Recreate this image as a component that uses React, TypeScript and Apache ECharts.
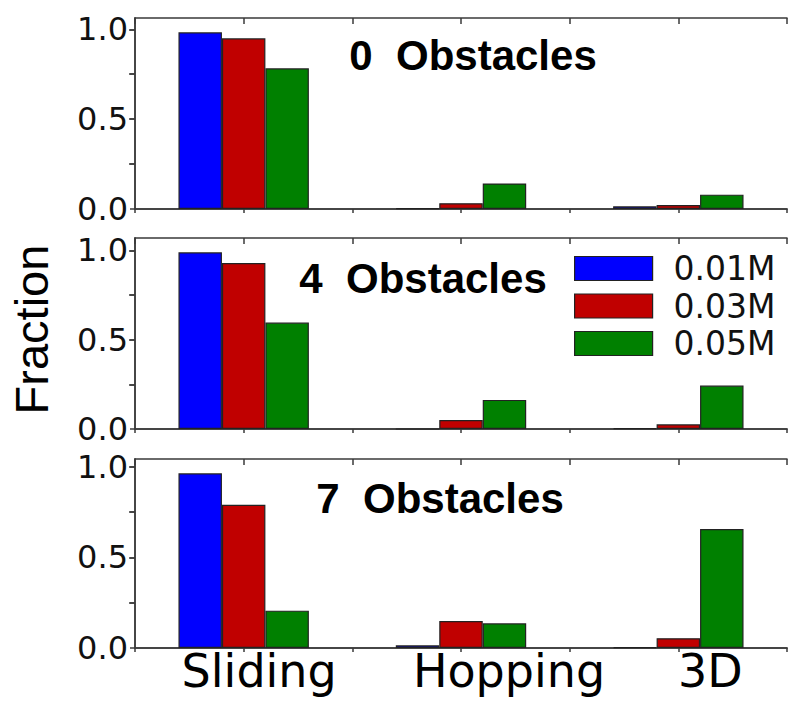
import React, { useEffect, useRef } from "react";
import * as echarts from "echarts";

const categories = ["Sliding", "Hopping", "3D"];
const seriesNames = ["0.01M", "0.03M", "0.05M"];
const panelTitles = ["0  Obstacles", "4  Obstacles", "7  Obstacles"];
const yLabelValues = [0, 0.5, 1.0];
const yTickValues = [0, 0.25, 0.5, 0.75, 1.0];

// 0 obstacles
const obs0_01M = [0.983, 0.004, 0.015];
const obs0_03M = [0.95, 0.032, 0.022];
const obs0_05M = [0.783, 0.142, 0.08];
// 4 obstacles
const obs4_01M = [0.99, 0, 0.005];
const obs4_03M = [0.93, 0.05, 0.026];
const obs4_05M = [0.596, 0.163, 0.243];
// 7 obstacles
const obs7_01M = [0.963, 0.015, 0.005];
const obs7_03M = [0.79, 0.149, 0.054];
const obs7_05M = [0.206, 0.136, 0.656];

const panelData = [
  [obs0_01M, obs0_03M, obs0_05M],
  [obs4_01M, obs4_03M, obs4_05M],
  [obs7_01M, obs7_03M, obs7_05M],
];

const colors = ["#0000ff", "#c00000", "#008000"];
const frameColor = "#3a3a3a";
const grids = [
  { left: 135, width: 652, top: 18, height: 191, max: 1.063 },
  { left: 135, width: 652, top: 238, height: 191, max: 1.07 },
  { left: 135, width: 652, top: 459, height: 189, max: 1.042 },
];
const titlePos = [
  { x: 473, y: 55 },
  { x: 423, y: 278 },
  { x: 440, y: 498 },
];
const labelShift = [31, 96, 64];

export default function App() {
  const ref = useRef<HTMLDivElement>(null);
  useEffect(() => {
    if (!ref.current) return;
    const chart = echarts.init(ref.current, undefined, { renderer: "svg" });
    const lineStyle = { color: frameColor, width: 1.5 };
    const xAxis: any[] = [];
    const yAxis: any[] = [];
    const series: any[] = [];
    grids.forEach((g, i) => {
      // main category axis
      xAxis.push({
        type: "category",
        gridIndex: i,
        data: categories,
        position: "bottom",
        axisLine: { show: true, lineStyle },
        axisTick: { show: false },
        axisLabel: {
          show: i === 2,
          margin: 0,
          formatter: (v: string) => `{c${categories.indexOf(v)}|${v}}`,
          rich: {
            c0: { fontSize: 46, fontFamily: "DejaVu Sans", color: "#000", padding: [0, 0, 0, labelShift[0]] },
            c1: { fontSize: 46, fontFamily: "DejaVu Sans", color: "#000", padding: [0, 0, 0, labelShift[1]] },
            c2: { fontSize: 46, fontFamily: "DejaVu Sans", color: "#000", padding: [0, 0, 0, labelShift[2]] },
          },
        },
        splitLine: { show: false },
      });
      // bottom tick axis
      xAxis.push({
        type: "value",
        gridIndex: i,
        position: "bottom",
        min: 0,
        max: 3,
        interval: 0.5,
        axisLine: { show: true, lineStyle },
        axisTick: { show: true, inside: false, length: 4, lineStyle },
        axisLabel: { show: false },
        splitLine: { show: false },
      });
      // top tick axis
      xAxis.push({
        type: "value",
        gridIndex: i,
        position: "top",
        min: 0,
        max: 3,
        interval: 0.5,
        axisLine: { show: true, lineStyle },
        axisTick: { show: true, inside: true, length: 6, lineStyle },
        axisLabel: { show: false },
        splitLine: { show: false },
      });
      yAxis.push({
        type: "value",
        gridIndex: i,
        position: "left",
        min: 0,
        max: g.max,
        name: i === 1 ? "Fraction" : "",
        nameLocation: "middle",
        nameRotate: 90,
        nameGap: 80,
        nameTextStyle: { fontSize: 47, fontFamily: "Liberation Sans", color: "#000", padding: [0, 0, 0, 8] },
        axisLine: { show: true, lineStyle },
        axisTick: { show: true, inside: false, length: 5, lineStyle, customValues: yTickValues },
        axisLabel: {
          show: true,
          customValues: yLabelValues,
          formatter: (v: number) => v.toFixed(1),
          fontSize: 32,
          fontFamily: "DejaVu Sans",
          color: "#111",
          margin: 7,
        },
        splitLine: { show: false },
      });
      yAxis.push({
        type: "value",
        gridIndex: i,
        position: "right",
        min: 0,
        max: g.max,
        axisLine: { show: true, lineStyle },
        axisTick: { show: true, inside: true, length: 6, lineStyle, customValues: [0.25, 0.5, 0.75, 1.0] },
        axisLabel: { show: false },
        splitLine: { show: false },
      });
      panelData[i].forEach((vals, s) => {
        series.push({
          type: "bar",
          name: seriesNames[s],
          xAxisIndex: i * 3,
          yAxisIndex: i * 2,
          data: vals,
          barGap: "0%",
          barCategoryGap: "40%",
          itemStyle: { color: colors[s], borderColor: "#222", borderWidth: 1.2 },
        });
      });
    });

    chart.setOption({
      animation: false,
      backgroundColor: "#fff",
      grid: grids.map((g) => ({ left: g.left, width: g.width, top: g.top, height: g.height })),
      xAxis,
      yAxis,
      series,
      legend: {
        data: seriesNames,
        orient: "vertical",
        left: 574,
        top: 252,
        padding: 0,
        itemWidth: 78,
        itemHeight: 24,
        itemGap: 4.5,
        icon: "rect",
        itemStyle: { borderColor: "#222", borderWidth: 1.2 },
        textStyle: { fontSize: 33, fontFamily: "DejaVu Sans", color: "#111", padding: [0, 0, 0, 16] },
        selectedMode: false,
      },
      graphic: panelTitles.map((t, i) => ({
        type: "text",
        x: titlePos[i].x,
        y: titlePos[i].y,
        style: {
          text: t,
          font: 'bold 42px "Liberation Sans"',
          fill: "#000",
          align: "center",
          verticalAlign: "middle",
        },
      })),
    });
    return () => chart.dispose();
  }, []);
  return (
    <div
      ref={ref}
      style={{ position: "absolute", left: 0, top: 0, width: 790, height: 702 }}
    />
  );
}
